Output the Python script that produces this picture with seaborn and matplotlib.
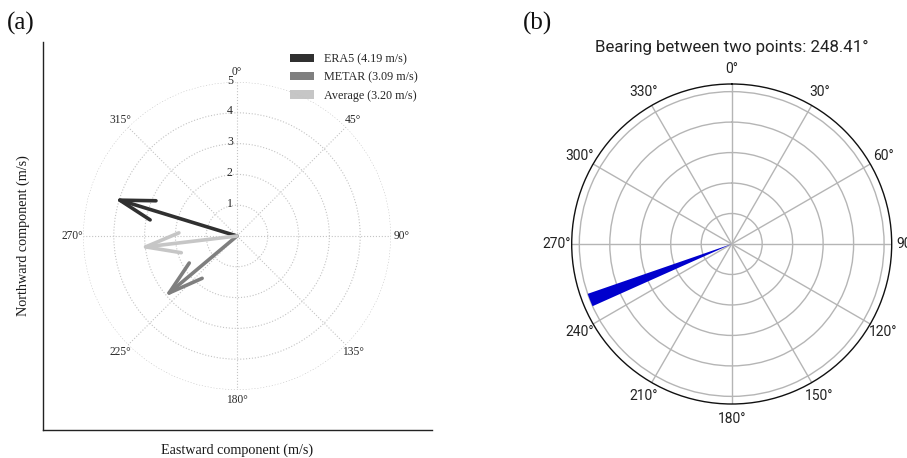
import numpy as np
import matplotlib
matplotlib.use("Agg")
import matplotlib.pyplot as plt
from matplotlib.patches import Patch
import seaborn as sns

# ---------------- data ----------------
series = ["ERA5", "METAR", "Average"]
speeds = [4.19, 3.09, 3.20]            # m/s
directions_deg = [287.0, 230.0, 263.2]  # direction the vector points (deg from N, clockwise)
series_colors = ["#303030", "#7f7f7f", "#c6c6c6"]
theta_ticks_a = [0, 45, 90, 135, 180, 225, 270, 315]
r_ticks_a = [1, 2, 3, 4, 5]

bearing_deg = 248.41
bar_length = [1.0]
bar_width_deg = 5.0
theta_ticks_b = list(range(0, 360, 30))
r_ticks_b = [0.2, 0.4, 0.6, 0.8, 1.0]

# ---------------- style ----------------
sns.set_theme(style="white")
plt.rcParams["font.family"] = ["Liberation Serif", "DejaVu Serif"]

W, H = 907, 458
fig = plt.figure(figsize=(W / 100, H / 100), dpi=100)

def frac(x0, y0, w, h):
    return [x0 / W, 1 - (y0 + h) / H, w / W, h / H]

# ---------------- panel (a) ----------------
axc = fig.add_axes(frac(43, 42, 389, 388))
axc.set_xticks([])
axc.set_yticks([])
sns.despine(ax=axc, top=True, right=True)
for s in ["left", "bottom"]:
    axc.spines[s].set_color("#222222")
    axc.spines[s].set_linewidth(1.0)
axc.set_xlabel("Eastward component (m/s)", fontsize=10.2, labelpad=10, color="#1a1a1a")
axc.set_ylabel("Northward component (m/s)", fontsize=10.2, labelpad=9, color="#1a1a1a")

axa = fig.add_axes(frac(83, 82, 308, 308), projection="polar")
axa.set_facecolor("none")
axa.set_theta_zero_location("N")
axa.set_theta_direction(-1)
axa.set_ylim(0, 5)
axa.set_yticks(r_ticks_a)
axa.set_yticklabels([])
for r in r_ticks_a:
    axa.annotate(str(r), xy=(0, r), xytext=(-3, 1), textcoords="offset points",
                 ha="right", va="center", fontsize=8.5, color="#2a2a2a")
axa.set_xticks(np.radians(theta_ticks_a))
axa.set_xticklabels([f"{t}°" for t in theta_ticks_a], fontsize=8.3, color="#2a2a2a")
axa.tick_params(axis="x", pad=0.5, length=0)
axa.grid(True, color="#c4c4c4", linestyle=":", linewidth=0.8)
axa.spines["polar"].set_visible(False)

for name, spd, d, c in zip(series, speeds, directions_deg, series_colors):
    axa.annotate(
        "", xy=(np.radians(d), spd), xytext=(0, 0),
        arrowprops=dict(arrowstyle="->,head_length=1.25,head_width=0.36",
                        lw=2.6, color=c, shrinkA=0, shrinkB=0, mutation_scale=20),
        zorder=5,
    )

handles = [Patch(facecolor=c, edgecolor="none") for c in series_colors]
labels = [f"{n} ({s:.2f} m/s)" for n, s in zip(series, speeds)]
axc.legend(handles, labels, loc="upper left", bbox_to_anchor=(0.635, 0.97),
           frameon=False, fontsize=8.7, handlelength=2.0, handleheight=0.65,
           handletextpad=0.8, labelspacing=0.5, borderpad=0, borderaxespad=0)

fig.text(21 / W, 1 - 23 / H, "(a)", fontsize=18, ha="center", va="center", color="#111111")
fig.text(537 / W, 1 - 23 / H, "(b)", fontsize=18, ha="center", va="center", color="#111111")

# ---------------- panel (b) ----------------
axb = fig.add_axes(frac(571.7, 84, 320, 320), projection="polar")
axb.set_theta_zero_location("N")
axb.set_theta_direction(-1)
axb.bar([np.radians(bearing_deg)], bar_length, width=np.radians(bar_width_deg),
        color="mediumblue", edgecolor="none", zorder=3)
axb.set_ylim(0, 1.05)
axb.set_yticks(r_ticks_b)
axb.set_yticklabels([])
axb.set_xticks(np.radians(theta_ticks_b))
axb.set_xticklabels([f"{t}°" for t in theta_ticks_b], fontsize=10,
                    family=["Roboto", "DejaVu Sans"], color="#222222")
axb.tick_params(axis="x", pad=4, length=0)
axb.grid(True, color="#b5b5b5", linewidth=1.0)
axb.spines["polar"].set_color("#111111")
axb.spines["polar"].set_linewidth(1.0)
axb.text(0.5, (404 - 47) / 320, f"Bearing between two points: {bearing_deg:.2f}°",
         transform=axb.transAxes, ha="center", va="center", fontsize=12.2,
         family=["Roboto", "DejaVu Sans"], color="#222222")

fig.savefig("out.png", dpi=100)
